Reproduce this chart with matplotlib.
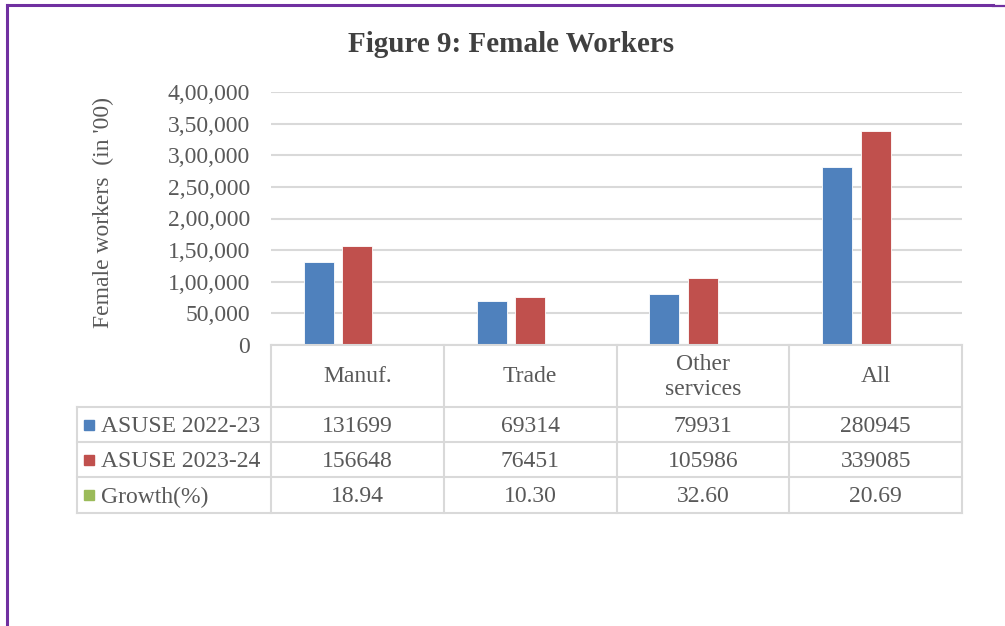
import numpy as np
import matplotlib
matplotlib.use('Agg')
import matplotlib.pyplot as plt
from matplotlib.patches import Rectangle
from matplotlib.lines import Line2D

categories = ['Manuf.', 'Trade', 'Other\nservices', 'All']
series_names = ['ASUSE 2022-23', 'ASUSE 2023-24', 'Growth(%)']
asuse_2223 = [131699, 69314, 79931, 280945]
asuse_2324 = [156648, 76451, 105986, 339085]
growth = [18.94, 10.30, 32.60, 20.69]
yticks = [0, 50000, 100000, 150000, 200000, 250000, 300000, 350000, 400000]

colors = ['#4F81BD', '#C0504D', '#9BBB59']
text_color = '#595959'
grid_color = '#D9D9D9'
fs = 17

plt.rcParams['font.family'] = ['Liberation Serif', 'DejaVu Serif']

W, H = 1005, 626
fig = plt.figure(figsize=(W / 100, H / 100), dpi=100)


def fx(px):
    return px / W


def fy(py):
    return 1 - py / H


def indian_format(v):
    s = str(int(v))
    if len(s) <= 3:
        return s
    head, tail = s[:-3], s[-3:]
    groups = []
    while len(head) > 2:
        groups.insert(0, head[-2:])
        head = head[:-2]
    if head:
        groups.insert(0, head)
    return ','.join(groups + [tail])


# plot area
left, right, top, bottom = 271, 962, 92, 345
ax = fig.add_axes([fx(left), fy(bottom), fx(right - left), fy(top) - fy(bottom)])
ax.set_xlim(0, len(categories))
ax.set_ylim(0, 400000)
ax.set_yticks(yticks)
ax.set_yticklabels([indian_format(t) for t in yticks])
ax.tick_params(axis='y', length=0, pad=15, labelsize=fs, labelcolor=text_color)
ax.set_xticks([])
for s in ax.spines.values():
    s.set_visible(False)
ax.yaxis.grid(True, color=grid_color, linewidth=1.5)
ax.set_axisbelow(True)

x = np.arange(len(categories)) + 0.5
bw = 0.174
step = 0.223
for i, vals in enumerate([asuse_2223, asuse_2324, growth]):
    ax.bar(x + (i - 1) * step, vals, bw, color=colors[i], edgecolor='white',
           linewidth=0.6, zorder=3)

fig.text(fx(103), fy(213), "Female workers  (in '00)", fontsize=fs, color=text_color,
         rotation=90, ha='center', va='center')

fig.text(fx(511), fy(44), 'Figure 9: Female Workers', fontsize=21, fontweight='bold',
         color='#404040', ha='center', va='center')

# data table under the chart
col_edges = [left + (right - left) * k / len(categories) for k in range(len(categories) + 1)]
row_edges = [345, 407, 442, 477, 513]
table_left = 77
lw = 1.5


def hline(x0, x1, y):
    fig.add_artist(Line2D([fx(x0), fx(x1)], [fy(y), fy(y)], color=grid_color, lw=lw))


def vline(x0, y0, y1):
    fig.add_artist(Line2D([fx(x0), fx(x0)], [fy(y0), fy(y1)], color=grid_color, lw=lw))


hline(left, right, row_edges[0])
for y in row_edges[1:]:
    hline(table_left, right, y)
for cx in col_edges:
    vline(cx, row_edges[0], row_edges[-1])
vline(table_left, row_edges[1], row_edges[-1])

for k, cat in enumerate(categories):
    cx = (col_edges[k] + col_edges[k + 1]) / 2
    fig.text(fx(cx), fy(377), cat, fontsize=fs, color=text_color, ha='center',
             va='center', linespacing=1.25)

cell_text = [[str(v) for v in asuse_2223],
             [str(v) for v in asuse_2324],
             ['%.2f' % v for v in growth]]
for r in range(3):
    cy = (row_edges[r + 1] + row_edges[r + 2]) / 2
    fig.add_artist(Rectangle((fx(84), fy(cy + 5)), fx(10), fy(cy - 5) - fy(cy + 5),
                             color=colors[r]))
    fig.text(fx(101), fy(cy + 2), series_names[r], fontsize=fs, color=text_color,
             ha='left', va='center')
    for k in range(len(categories)):
        cx = (col_edges[k] + col_edges[k + 1]) / 2
        fig.text(fx(cx), fy(cy + 2), cell_text[r][k], fontsize=fs, color=text_color,
                 ha='center', va='center')

# purple frame on top and left
purple = '#7030A0'
fig.add_artist(Line2D([fx(7), fx(993)], [fy(5), fy(5)], color=purple, lw=2.2))
fig.add_artist(Line2D([fx(7), fx(7)], [fy(5), fy(626)], color=purple, lw=2.2))
fig.add_artist(Line2D([fx(993), fx(1005)], [fy(6), fy(6)], color=purple, lw=1.6))

fig.savefig('out.png', dpi=100, facecolor='white')
